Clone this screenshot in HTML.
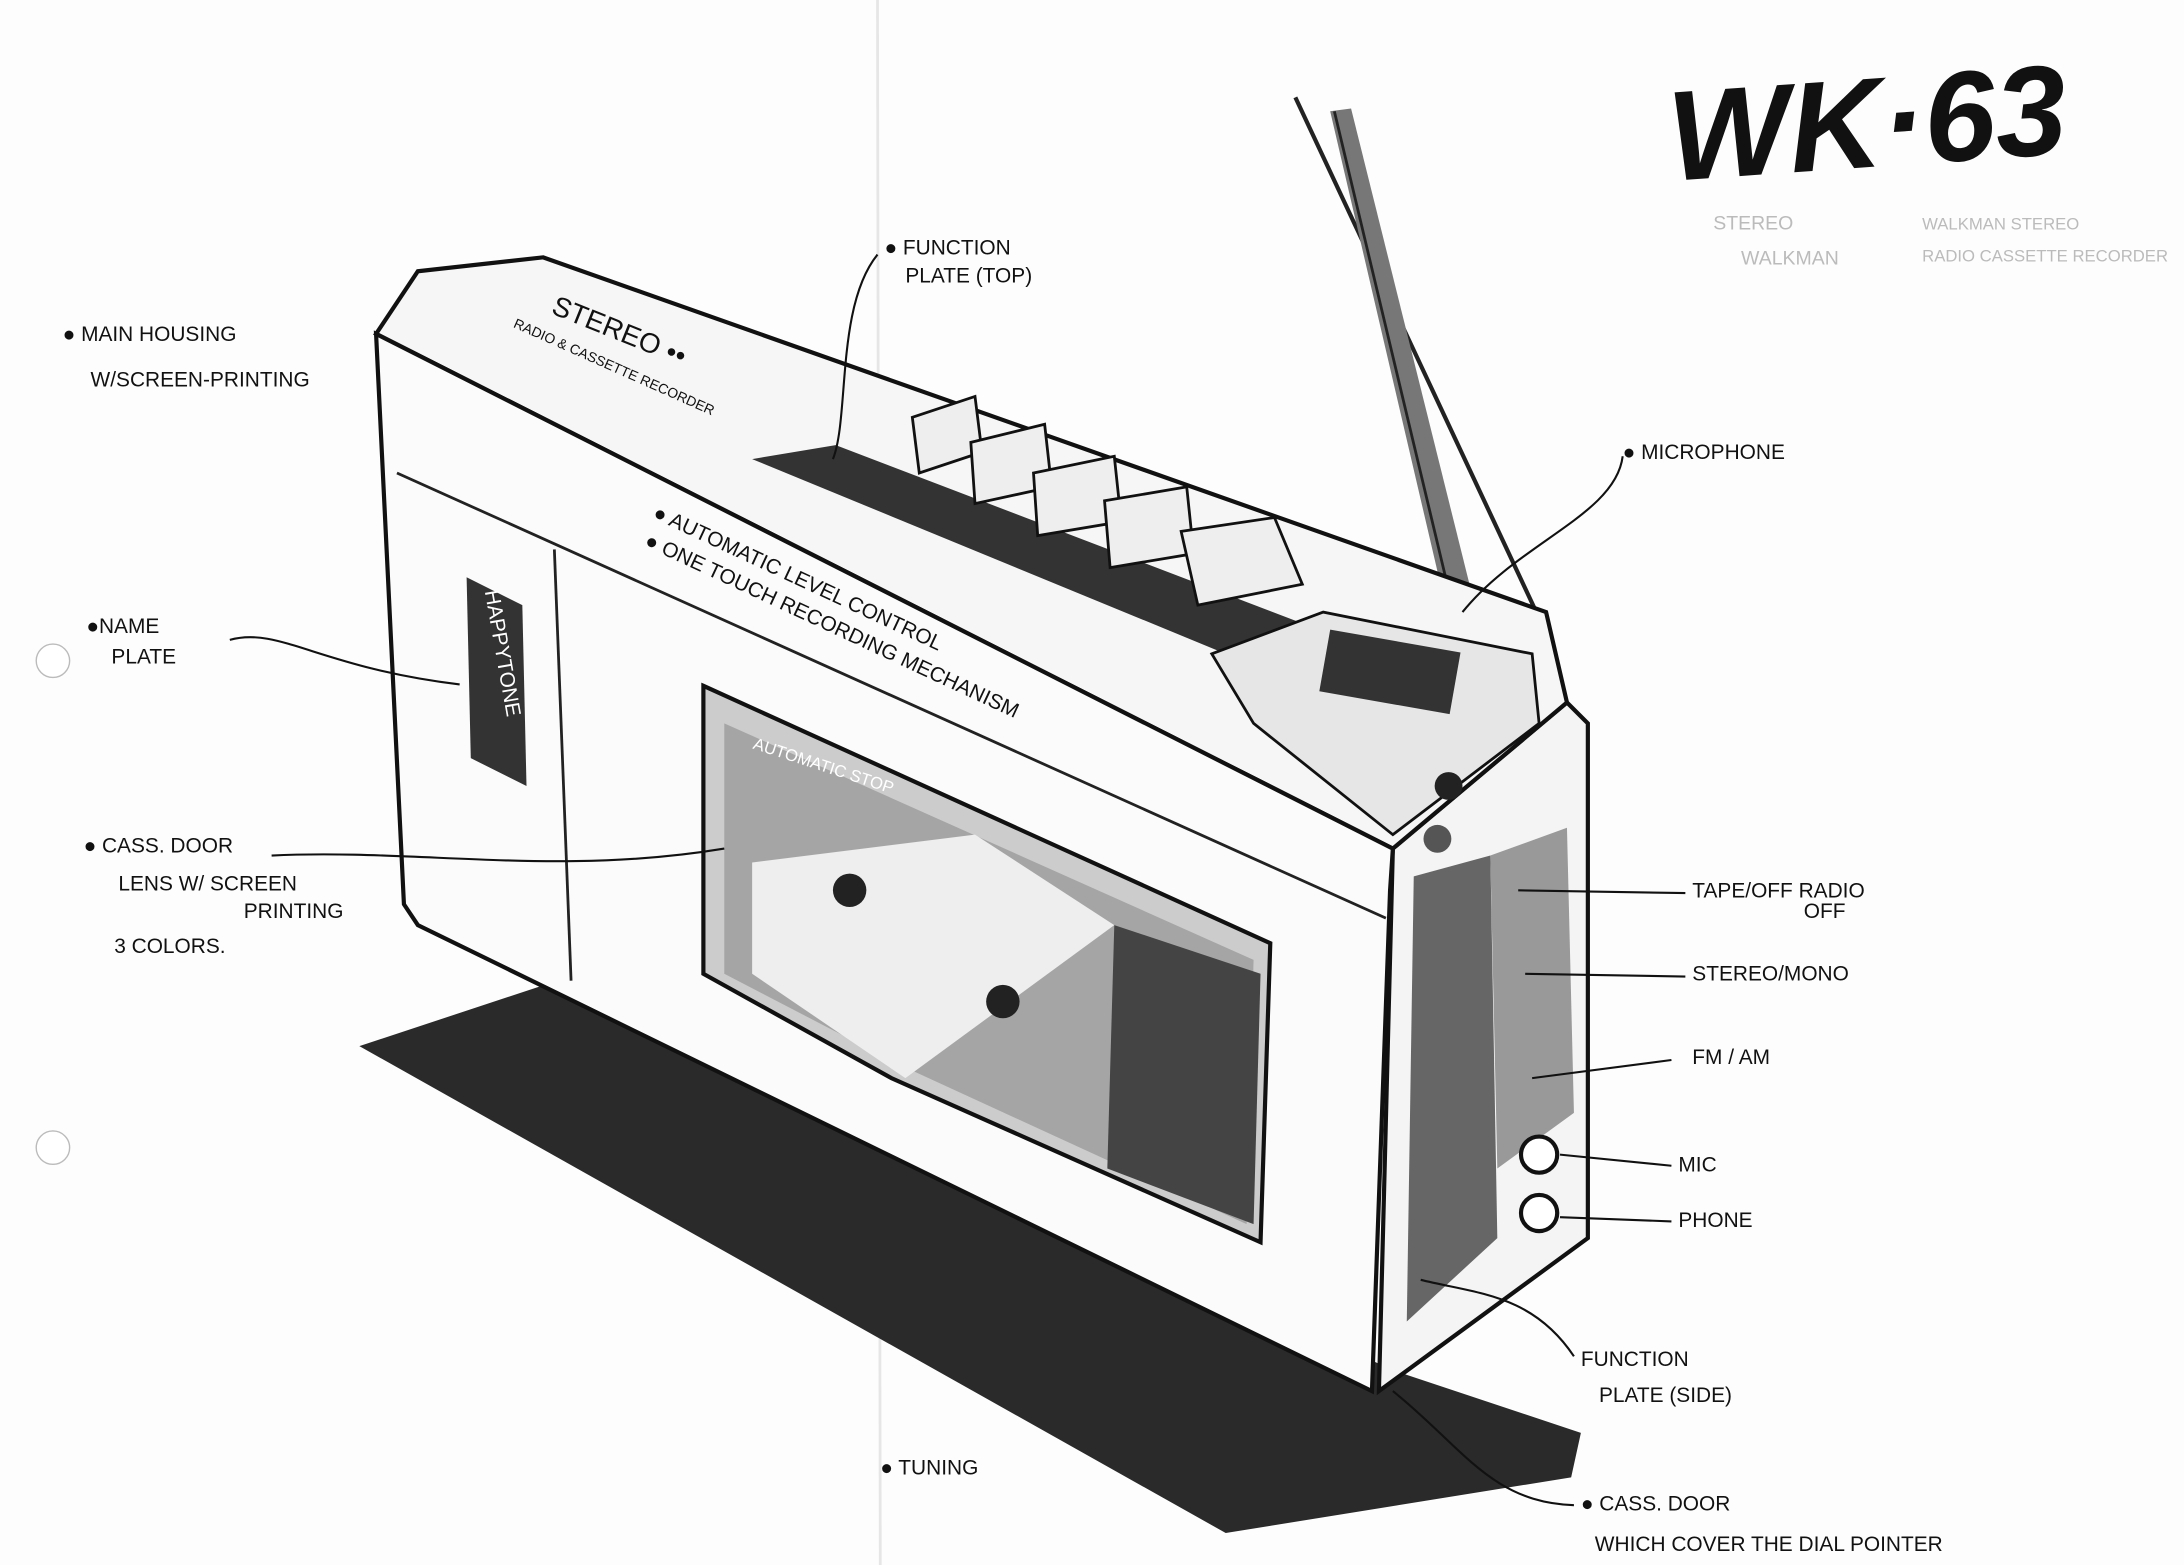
<!DOCTYPE html>
<html><head><meta charset="utf-8"><style>
html,body{margin:0;padding:0;background:#fff;}
svg{display:block;}
text{font-family:"Liberation Sans",sans-serif;fill:#111;}
.l{font-size:15px;}
</style></head><body>
<svg width="2184" height="1565" viewBox="0 0 1568 1125" preserveAspectRatio="none" xmlns="http://www.w3.org/2000/svg">
<rect width="1568" height="1125" fill="#fdfdfd"/>
<line x1="630" y1="0" x2="632" y2="1125" stroke="#e6e6e6" stroke-width="2"/>
<circle cx="38" cy="475" r="12" fill="#fff" stroke="#bbb"/>
<circle cx="38" cy="825" r="12" fill="#fff" stroke="#bbb"/>
<polygon points="258,752 400,705 1000,985 1135,1030 1128,1062 880,1102" fill="#2a2a2a"/>
<line x1="930" y1="70" x2="1110" y2="455" stroke="#222" stroke-width="3"/>
<polygon points="955,80 970,78 1060,440 1040,445" fill="#777"/>
<line x1="958" y1="80" x2="1045" y2="445" stroke="#222" stroke-width="2"/>
<polygon points="1000,610 1125,505 1140,520 1140,890 990,1000" fill="#f4f4f4" stroke="#111" stroke-width="3"/>
<polygon points="1015,630 1070,615 1075,890 1010,950" fill="#666"/>
<polygon points="1070,615 1125,595 1130,800 1075,840" fill="#999"/>
<circle cx="1105" cy="830" r="13" fill="#fff" stroke="#111" stroke-width="3"/>
<circle cx="1105" cy="872" r="13" fill="#fff" stroke="#111" stroke-width="3"/>
<polygon points="270,240 300,195 390,185 1110,440 1125,505 1000,610" fill="#f6f6f6" stroke="#111" stroke-width="3"/>
<polygon points="540,330 600,320 940,450 880,470" fill="#333"/>
<polygon points="270,240 1000,610 998,640 985,1000 300,665 290,650" fill="#fbfbfb" stroke="#111" stroke-width="3"/>
<line x1="285" y1="340" x2="995" y2="660" stroke="#222" stroke-width="2"/>
<line x1="398" y1="395" x2="410" y2="705" stroke="#222" stroke-width="2"/>
<g fill="#eee" stroke="#111" stroke-width="2">
<polygon points="655,300 700,285 705,325 660,340"/>
<polygon points="697,318 750,305 755,350 700,362"/>
<polygon points="742,340 800,328 805,375 745,385"/>
<polygon points="793,360 852,350 857,398 797,408"/>
<polygon points="848,382 915,372 935,420 860,435"/>
</g>
<polygon points="870,470 950,440 1100,470 1105,520 1000,600 900,520" fill="#e6e6e6" stroke="#111" stroke-width="2"/>
<rect x="950" y="460" width="95" height="45" fill="#333" transform="rotate(10 995 485)"/>
<circle cx="1040" cy="565" r="10" fill="#222"/>
<circle cx="1032" cy="603" r="10" fill="#555"/>
<polygon points="335,415 375,435 378,565 338,545" fill="#333"/>
<text x="0" y="0" font-size="15" style="fill:#fff" transform="translate(348,425) rotate(80)">HAPPYTONE</text>
<polygon points="505,493 912,678 905,893 640,775 505,700" fill="#ccc" stroke="#111" stroke-width="3"/>
<polygon points="520,520 900,690 895,880 645,765 520,700" fill="#a5a5a5"/>
<polygon points="540,620 700,600 800,665 650,775 540,700" fill="#eee"/>
<polygon points="800,665 905,700 900,880 795,840" fill="#444"/>
<circle cx="610" cy="640" r="12" fill="#222"/>
<circle cx="720" cy="720" r="12" fill="#222"/>
<text x="540" y="538" font-size="12" transform="rotate(18 540 538)" style="fill:#fff">AUTOMATIC STOP</text>
<text x="395" y="225" font-size="20" transform="rotate(22 395 225)">STEREO ••</text>
<text x="368" y="235" font-size="10" transform="rotate(24 368 235)">RADIO &amp; CASSETTE RECORDER</text>
<text x="468" y="372" font-size="15" transform="rotate(25 468 372)">● AUTOMATIC LEVEL CONTROL</text>
<text x="462" y="392" font-size="15" transform="rotate(25 462 392)">● ONE TOUCH RECORDING MECHANISM</text>
<text x="1200" y="130" font-size="92" font-weight="bold" font-style="italic" transform="rotate(-4 1200 130)">WK·63</text>
<text x="1230" y="165" font-size="14" style="fill:#bbb">STEREO</text>
<text x="1250" y="190" font-size="14" style="fill:#bbb">WALKMAN</text>
<text x="1380" y="165" font-size="12" style="fill:#bbb">WALKMAN STEREO</text>
<text x="1380" y="188" font-size="12" style="fill:#bbb">RADIO CASSETTE RECORDER</text>
<g class="l">
<text x="45" y="245">● MAIN HOUSING</text>
<text x="65" y="278">W/SCREEN-PRINTING</text>
<text x="62" y="455">●NAME</text>
<text x="80" y="477">PLATE</text>
<text x="60" y="613">● CASS. DOOR</text>
<text x="85" y="640">LENS W/ SCREEN</text>
<text x="175" y="660">PRINTING</text>
<text x="82" y="685">3 COLORS.</text>
<text x="635" y="183">● FUNCTION</text>
<text x="650" y="203">PLATE (TOP)</text>
<text x="1165" y="330">● MICROPHONE</text>
<text x="1215" y="645">TAPE/OFF RADIO</text>
<text x="1295" y="660">OFF</text>
<text x="1215" y="705">STEREO/MONO</text>
<text x="1215" y="765">FM / AM</text>
<text x="1205" y="842">MIC</text>
<text x="1205" y="882">PHONE</text>
<text x="1135" y="982">FUNCTION</text>
<text x="1148" y="1008">PLATE (SIDE)</text>
<text x="632" y="1060">● TUNING</text>
<text x="1135" y="1086">● CASS. DOOR</text>
<text x="1145" y="1115">WHICH COVER THE DIAL POINTER</text>
</g>
<g fill="none" stroke="#111" stroke-width="1.5">
<path d="M165,460 C200,450 230,480 330,492"/>
<path d="M195,615 C300,610 400,630 520,610"/>
<path d="M630,183 C600,220 610,300 598,330"/>
<path d="M1165,328 C1160,370 1090,390 1050,440"/>
<path d="M1210,642 L1090,640"/>
<path d="M1210,702 L1095,700"/>
<path d="M1200,762 L1100,775"/>
<path d="M1200,838 L1120,830"/>
<path d="M1200,878 L1120,875"/>
<path d="M1130,975 C1100,930 1060,930 1020,920"/>
<path d="M1130,1082 C1070,1080 1050,1040 1000,1000"/>
</g>
</svg>
</body></html>
